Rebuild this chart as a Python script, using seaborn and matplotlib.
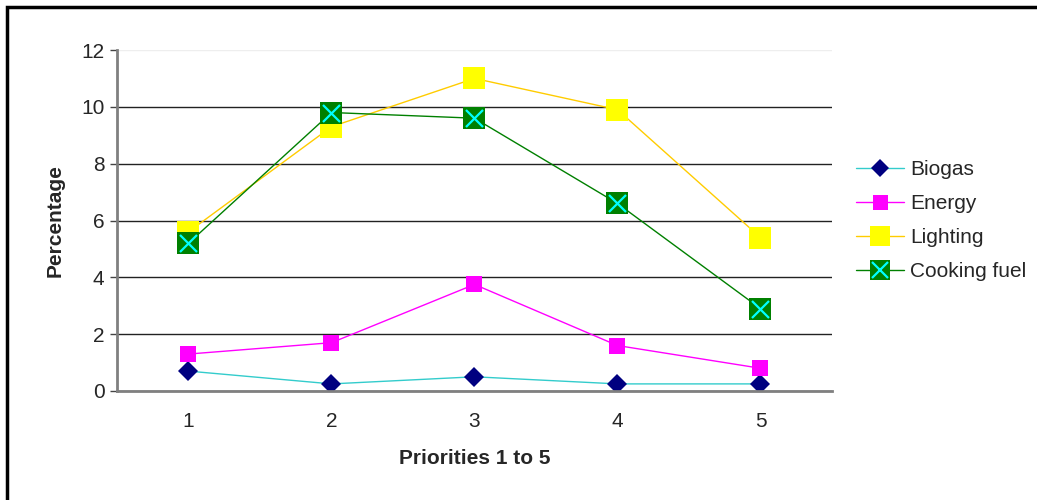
import pandas as pd
import numpy as np
import matplotlib
matplotlib.use("Agg")
import matplotlib.pyplot as plt
from matplotlib.lines import Line2D
from matplotlib.patches import Rectangle
from matplotlib.legend_handler import HandlerTuple
import seaborn as sns

# data
priorities = [1, 2, 3, 4, 5]
biogas = [0.7, 0.25, 0.5, 0.25, 0.25]
energy = [1.3, 1.7, 3.75, 1.6, 0.8]
lighting = [5.6, 9.3, 11.0, 9.9, 5.4]
cooking_fuel = [5.2, 9.8, 9.6, 6.6, 2.9]

sns.set_style("white")
plt.rcParams['font.family'] = ['Liberation Sans', 'DejaVu Sans']

fig = plt.figure(figsize=(10.37, 5.0), dpi=100)
ax = fig.add_axes([0.1128, 0.218, 0.6895, 0.682])

# line color, marker, marker face, marker size
styles = {
    'Biogas': (biogas, '#33CCCC', 'D', '#000080', 10.5),
    'Energy': (energy, '#FF00FF', 's', '#FF00FF', 12),
    'Lighting': (lighting, '#FFCC00', 's', '#FFFF00', 16),
    'Cooking fuel': (cooking_fuel, '#008000', 's', '#008000', 16),
}

handles = []
for name, (vals, lc, mk, mc, ms) in styles.items():
    df = pd.DataFrame({'x': priorities, 'y': vals})
    sns.lineplot(data=df, x='x', y='y', ax=ax, color=lc, linewidth=1.0,
                 marker=mk, markersize=ms, markerfacecolor=mc,
                 markeredgecolor=mc, markeredgewidth=0)
    h = Line2D([], [], color=lc, lw=1.0, marker=mk, ms=ms * 0.9,
               mfc=mc, mec=mc, mew=0)
    if name == 'Cooking fuel':
        sns.scatterplot(data=df, x='x', y='y', ax=ax, marker='x', s=150,
                        color='#00FFFF', linewidth=1.6, zorder=5)
        hx = Line2D([], [], ls='none', marker='x', ms=11, mec='#00FFFF', mew=1.6)
        h = (h, hx)
    handles.append(h)

ax.set_xlim(0.5, 5.5)
ax.set_ylim(0, 12)
ax.set_yticks(range(0, 13, 2))
ax.set_xticks(priorities)
ax.set_xticks(np.arange(0.5, 6, 1.0), minor=True)
ax.tick_params(axis='x', which='major', length=0, labelsize=15, pad=15)
ax.tick_params(axis='x', which='minor', length=5, width=1, color='#444444', direction='out')
ax.tick_params(axis='y', which='major', length=5, width=1, color='#444444', direction='out',
               labelsize=15, pad=4, left=True)

ax.yaxis.grid(True, color='#222222', linewidth=1.0)
ax.xaxis.grid(False)
ax.set_axisbelow(True)
gl = ax.yaxis.get_gridlines()
gl[-1].set_color('#EEEEEE')

for s in ['top', 'right']:
    ax.spines[s].set_visible(False)
for s in ['left', 'bottom']:
    ax.spines[s].set_color('#808080')
    ax.spines[s].set_linewidth(2)

ax.set_xlabel('Priorities 1 to 5', fontsize=15, fontweight='bold', labelpad=13)
ax.set_ylabel('Percentage', fontsize=15, fontweight='bold', labelpad=12)

ax.legend(handles, list(styles.keys()), loc='center left', bbox_to_anchor=(1.007, 0.5),
          frameon=False, fontsize=15, handlelength=2.3, labelspacing=0.72,
          handletextpad=0.3, handler_map={tuple: HandlerTuple(ndivide=1, pad=0)})

fig.patches.append(Rectangle((7 / 1037, -0.01), 1.0, 1 - 7 / 500 + 0.01,
                             transform=fig.transFigure, fill=False,
                             edgecolor='black', linewidth=2.5))

fig.savefig('out.png', dpi=100)
